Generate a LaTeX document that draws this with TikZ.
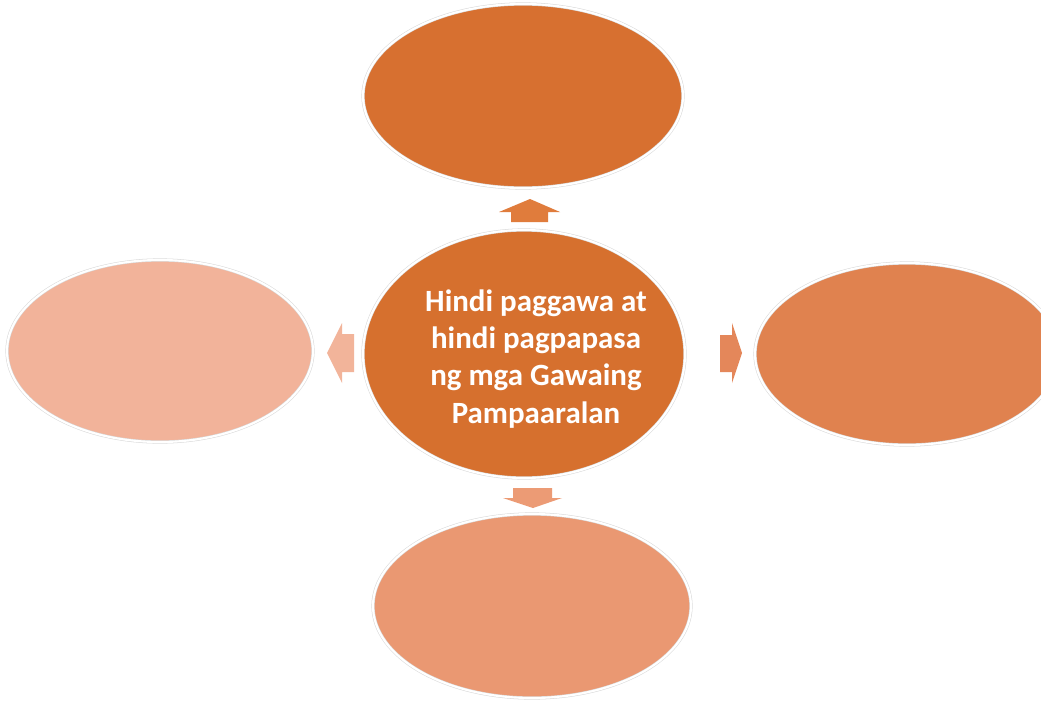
\documentclass[tikz,border=0pt]{standalone}
\usepackage{fontspec}
\setmainfont{Carlito}
\usetikzlibrary{shapes.geometric}
\definecolor{ctop}{HTML}{D77030}
\definecolor{ccen}{HTML}{D6702E}
\definecolor{cright}{HTML}{E0824F}
\definecolor{cbot}{HTML}{EA9872}
\definecolor{cleft}{HTML}{F2B39A}
\definecolor{aup}{HTML}{E07C3C}
\definecolor{aright}{HTML}{E4875A}
\definecolor{adown}{HTML}{EC9B75}
\definecolor{aleft}{HTML}{F2B49A}
\tikzset{
  blob/.style={ellipse, inner sep=0pt, outer sep=0pt, draw=gray!30, double=white, double distance=1.6pt, line width=0.4pt},
  blockarrow/.style={draw=none}
}
\begin{document}
\begin{tikzpicture}[x=0.75pt,y=-0.75pt]
\useasboundingbox (0,0) rectangle (1041,700);
\fill[white] (0,0) rectangle (1041,700);
\node[blob, fill=ctop, minimum width=240pt, minimum height=138pt] (top) at (523,96) {};
\node[blob, fill=ccen, minimum width=241.5pt, minimum height=186pt] (cen) at (524,354) {};
\node[blob, fill=cleft, minimum width=229.5pt, minimum height=136.5pt] (left) at (160,351) {};
\node[blob, fill=cright, minimum width=228pt, minimum height=136.5pt] (right) at (907,354) {};
\node[blob, fill=cbot, minimum width=238.5pt, minimum height=138pt] (bot) at (532,606) {};
\node[text=white, font=\fontsize{23.2}{27.8}\selectfont\bfseries, align=center, inner sep=0pt] (ctext) at (536,359) {Hindi paggawa at\\hindi pagpapasa\\ng mga Gawaing\\Pampaaralan};
% block arrows
\fill[aup] (511,222) -- (511,212) -- (499,212) -- (530,199) -- (560,212) -- (548,212) -- (548,222) -- cycle;
\fill[adown] (513,488) -- (552,488) -- (552,498) -- (562,498) -- (533,508) -- (503,498) -- (513,498) -- cycle;
\fill[aleft] (354,334) -- (354,372) -- (342,372) -- (342,383) -- (327,353) -- (342,323) -- (342,334) -- cycle;
\fill[aright] (720,335) -- (732,335) -- (732,323) -- (742,353) -- (732,383) -- (732,372) -- (720,372) -- cycle;
\end{tikzpicture}
\end{document}
